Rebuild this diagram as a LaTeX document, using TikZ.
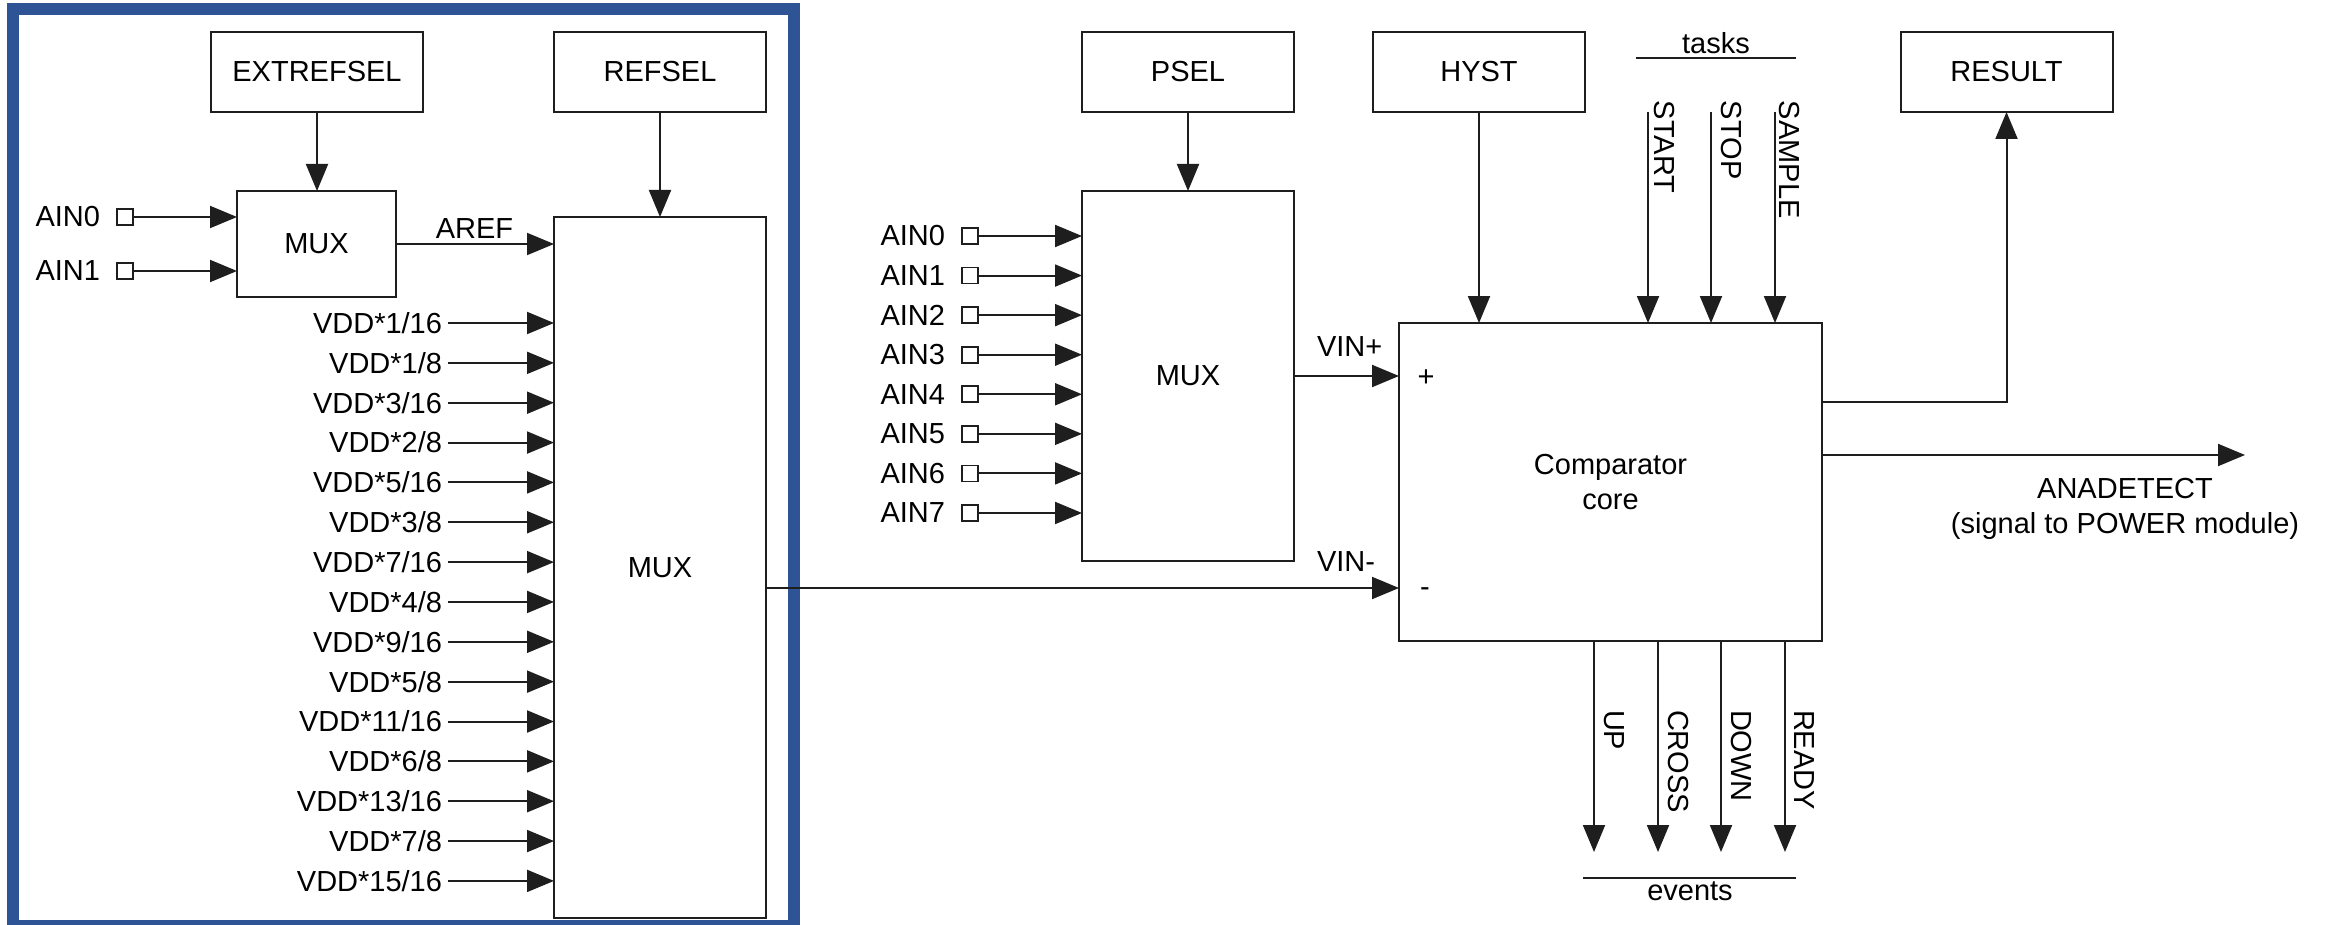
\documentclass[tikz,border=0pt]{standalone}
\usepackage{fontspec}
\setmainfont{Liberation Sans}
\usetikzlibrary{arrows.meta,calc}
\definecolor{frameblue}{RGB}{46,84,150}
\definecolor{ink}{RGB}{30,30,30}
\begin{document}
\begin{tikzpicture}[x=1pt,y=-1pt,
  every node/.style={font=\fontsize{29}{35}\selectfont, text=black},
  box/.style={draw=ink, line width=2pt, rectangle, inner sep=0pt, outer sep=0pt},
  selbox/.style={box, minimum width=212pt, minimum height=80pt},
  lbl/.style={inner sep=0pt, outer sep=0pt},
  arr/.style={draw=ink, line width=2pt, -{Triangle[length=27pt,width=22pt]}},
  wire/.style={draw=ink, line width=2pt},
  pin/.style={draw=ink, line width=1.6pt, rectangle, minimum size=16pt, inner sep=0pt, outer sep=0pt, fill=white}
]
\useasboundingbox (0,0) rectangle (2333,925);
\fill[white] (0,0) rectangle (2333,925);
\begin{scope}
\clip (0,0) rectangle (2333,925);
\draw[frameblue, line width=12pt] (13,9) rectangle (793.5,926);
\end{scope}

% boxes
\node[selbox] (extrefsel) at (317,72) {EXTREFSEL};
\node[selbox] (refsel) at (660,72) {REFSEL};
\node[selbox] (psel) at (1188,72) {PSEL};
\node[selbox] (hyst) at (1479,72) {HYST};
\node[selbox] (result) at (2006.5,72) {RESULT};
\node[box, minimum width=159pt, minimum height=106pt] (muxa) at (316.5,244) {MUX};
\node[box, minimum width=212pt, minimum height=701pt] (muxb) at (660,567.5) {MUX};
\node[box, minimum width=212pt, minimum height=370pt] (muxc) at (1188,376) {MUX};
\node[box, minimum width=423pt, minimum height=318pt, align=center] (comp) at (1610.5,482) {Comparator\\core};

% select arrows
\draw[arr] (extrefsel.south) -- (extrefsel.south |- muxa.north);
\draw[arr] (refsel.south) -- (refsel.south |- muxb.north);
\draw[arr] (psel.south) -- (psel.south |- muxc.north);
\draw[arr] (hyst.south) -- (hyst.south |- comp.north);

% small mux inputs
\foreach \n/\yy in {0/217,1/271} {
  \node[lbl, anchor=east] (la\n) at (100,\yy) {AIN\n};
  \node[pin] (pa\n) at (125,\yy) {};
  \draw[arr] (pa\n.east) -- (muxa.west |- pa\n.east);
}

% AREF
\draw[arr] (muxa.east) -- (muxb.west |- muxa.east);
\node[lbl] (aref) at (474.5,229) {AREF};

% VDD inputs
\foreach \a/\b [count=\i from 0] in {1/16,1/8,3/16,2/8,5/16,3/8,7/16,4/8,9/16,5/8,11/16,6/8,13/16,7/8,15/16} {
  \pgfmathsetmacro\yy{323+\i*39.85}
  \node[lbl, anchor=east] (vdd\i) at (442,\yy) {VDD*\a/\b};
  \draw[arr] ([xshift=6pt]vdd\i.east) -- (muxb.west |- vdd\i.east);
}

% middle mux inputs
\foreach \n in {0,...,7} {
  \pgfmathsetmacro\yy{236+\n*39.57}
  \node[lbl, anchor=east] (lc\n) at (945,\yy) {AIN\n};
  \node[pin] (pc\n) at (970,\yy) {};
  \draw[arr] (pc\n.east) -- (muxc.west |- pc\n.east);
}

% VIN+ / VIN-
\draw[arr] (muxc.east) -- (comp.west |- muxc.east);
\node[lbl, anchor=base west] (vinp) at (1317,356) {VIN+};
\node[lbl, anchor=base] (plus) at (1426,386) {+};
\coordinate (vm) at (0,588);
\draw[arr] (muxb.east |- vm) -- (comp.west |- vm);
\node[lbl, anchor=base west] (vinm) at (1317,571) {VIN-};
\node[lbl, anchor=base] (minus) at (1425,596) {-};

% tasks
\node[lbl, anchor=base] (tasks) at (1716,54) {tasks};
\coordinate (tl1) at (1636,58);
\coordinate (tl2) at (1796,58);
\draw[wire] (tl1) -- (tl2);
\foreach \nm/\x/\lx in {START/1648/1654, STOP/1711/1721, SAMPLE/1775/1779} {
  \coordinate (t\nm) at (\x,112);
  \draw[arr] (t\nm) -- (t\nm |- comp.north);
  \node[lbl, rotate=-90, anchor=base west] (l\nm) at (\lx,101) {\nm};
}

% RESULT
\coordinate (rs) at (0,402);
\draw[arr] (comp.east |- rs) -| (result.south);

% ANADETECT
\coordinate (ana) at (2245,455);
\draw[arr] (comp.east |- ana) -- (ana);
\node[lbl, align=center] (anal) at (2125,508.5) {ANADETECT\\(signal to POWER module)};

% events
\foreach \nm/\x/\lx in {UP/1594/1604, CROSS/1658/1668, DOWN/1721/1731, READY/1785/1794} {
  \coordinate (e\nm) at (\x,852);
  \draw[arr] (comp.south -| e\nm) -- (e\nm);
  \node[lbl, rotate=-90, anchor=base west] (l\nm) at (\lx,710) {\nm};
}
\coordinate (el1) at (1583,878);
\coordinate (el2) at (1796,878);
\draw[wire] (el1) -- (el2);
\node[lbl, anchor=base] (events) at (1690,900) {events};
\end{tikzpicture}
\end{document}
